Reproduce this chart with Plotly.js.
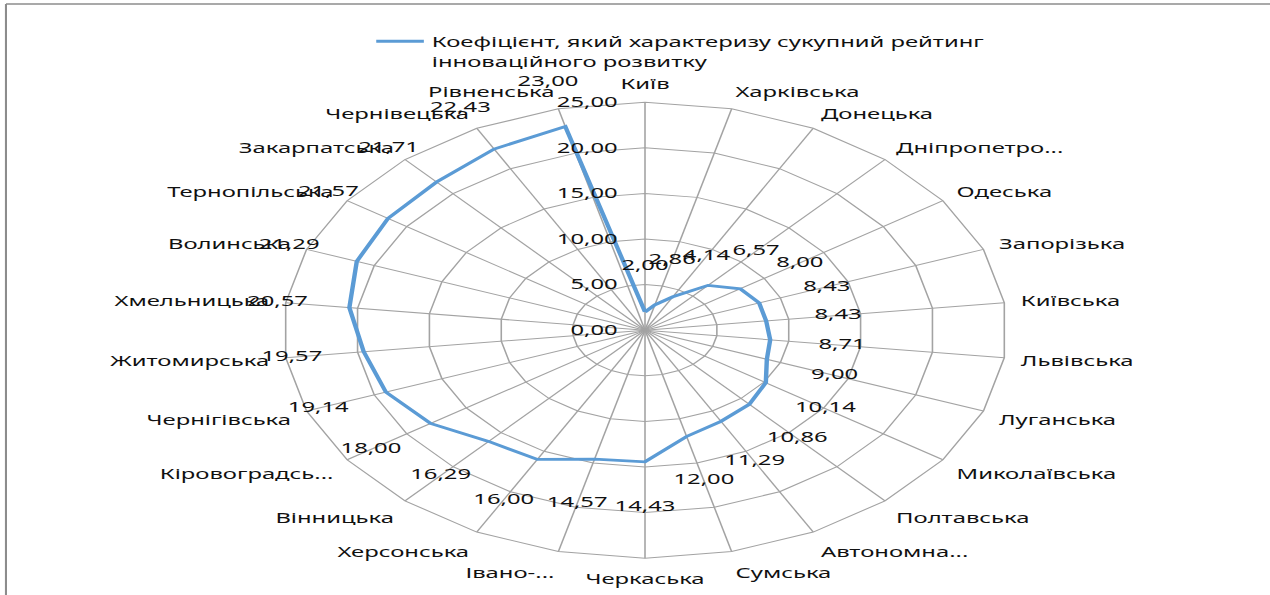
<!DOCTYPE html>
<html>
<head>
<meta charset="utf-8">
<script src="https://cdn.plot.ly/plotly-3.0.1.min.js"></script>
<style>
  html, body { margin: 0; padding: 0; background: #fff; overflow: hidden; }
  #wrap { width: 1270px; height: 595px; overflow: hidden; position: relative; }
  #chart { width: 800px; height: 595px; transform: scaleX(1.5875); transform-origin: 0 0; }
</style>
</head>
<body>
<div id="wrap"><div id="chart"></div></div>
<script>
const categories = ["Київ", "Харківська", "Донецька", "Дніпропетро...", "Одеська", "Запорізька",
  "Київська", "Львівська", "Луганська", "Миколаївська", "Полтавська", "Автономна...",
  "Сумська", "Черкаська", "Івано-...", "Херсонська", "Вінницька", "Кіровоградсь...",
  "Чернігівська", "Житомирська", "Хмельницька", "Волинська", "Тернопільська",
  "Закарпатська", "Чернівецька", "Рівненська"];
const values = [2.00, 2.86, 4.14, 6.57, 8.00, 8.43, 8.43, 8.71, 9.00, 10.14, 10.86, 11.29,
  12.00, 14.43, 14.57, 16.00, 16.29, 18.00, 19.14, 19.57, 20.57, 21.29, 21.57, 21.71, 22.43, 23.00];
const seriesName = "Коефіцієнт, який характеризу сукупний рейтинг<br>інноваційного розвитку";
const radialTicks = [0, 5, 10, 15, 20, 25];

const fmt = v => v.toFixed(2).replace('.', ',');
const labelOffset = 5;
const FONT = "Noto Sans, sans-serif";
const FS = 15;

// main polar: radius 228px for 0..25 ; label polar: same scale, range 0..29
const cx = 406.3, cyTop = 330.2, W = 800, H = 595, R = 228, rMax = 25, rMax2 = 29;
const R2 = R * rMax2 / rMax;
const tickShift = 14.5;
function dom(rad, dx) {
  dx = dx || 0;
  return { x: [(cx + dx - rad) / W, (cx + dx + rad) / W],
           y: [Math.max(0, (H - (cyTop + rad)) / H), (H - (cyTop - rad)) / H] };
}

const line = {
  type: 'scatterpolar',
  subplot: 'polar',
  mode: 'lines',
  r: values.concat([values[0]]),
  theta: categories.concat([categories[0]]),
  name: seriesName,
  line: { color: '#5b9bd5', width: 2.8 },
  hoverinfo: 'skip'
};
const labels = {
  type: 'scatterpolar',
  subplot: 'polar2',
  mode: 'text',
  r: values.map(v => v + labelOffset),
  theta: categories,
  text: values.map(fmt),
  textposition: 'middle center',
  textfont: { family: FONT, size: FS, color: '#111' },
  showlegend: false,
  hoverinfo: 'skip'
};
// hosts the radial tick labels (no visible mark)
const tickHost = {
  type: 'scatterpolar', subplot: 'polar3', mode: 'markers',
  r: [0], theta: [categories[0]],
  marker: { size: 1, color: 'rgba(0,0,0,0)' },
  showlegend: false, hoverinfo: 'skip'
};

const layout = {
  width: W, height: H,
  margin: { l: 0, r: 0, t: 0, b: 0 },
  paper_bgcolor: '#fff',
  separators: ', ',
  font: { family: FONT, size: FS, color: '#111' },
  showlegend: true,
  legend: {
    x: 0.29, xanchor: 'left', y: 0.958, yanchor: 'top', valign: 'top',
    font: { family: FONT, size: FS, color: '#111' },
    bgcolor: 'rgba(0,0,0,0)', borderwidth: 0
  },
  polar: {
    domain: dom(R),
    bgcolor: '#fff',
    gridshape: 'linear',
    radialaxis: {
      range: [0, rMax], tickvals: radialTicks, showticklabels: false,
      angle: 90, showline: false, ticks: '',
      gridcolor: '#a3a3a3', gridwidth: 1
    },
    angularaxis: {
      direction: 'clockwise', rotation: 90,
      gridcolor: '#a3a3a3', linecolor: '#a3a3a3', linewidth: 1, showline: true,
      ticks: 'outside', ticklen: 7, tickcolor: 'rgba(0,0,0,0)',
      tickfont: { family: FONT, size: FS, color: '#111' }
    }
  },
  polar3: {
    domain: dom(R, -tickShift),
    bgcolor: 'rgba(0,0,0,0)',
    radialaxis: {
      range: [0, rMax], tickvals: radialTicks, tickformat: '.2f',
      angle: 90, side: 'counterclockwise', tickangle: 90,
      showline: false, showgrid: false, ticks: '',
      tickfont: { family: FONT, size: FS, color: '#111' }
    },
    angularaxis: { direction: 'clockwise', rotation: 90, visible: false,
      categoryorder: 'array', categoryarray: categories }
  },
  polar2: {
    domain: dom(R2),
    bgcolor: 'rgba(0,0,0,0)',
    radialaxis: { range: [0, rMax2], visible: false },
    angularaxis: { direction: 'clockwise', rotation: 90, visible: false,
      categoryorder: 'array', categoryarray: categories }
  },
  shapes: [
    { type: 'line', xref: 'paper', yref: 'paper', x0: 0.0047, x1: 1.2, y0: 1 - 4/595, y1: 1 - 4/595,
      line: { color: '#8c8c8c', width: 1.3 } },
    { type: 'line', xref: 'paper', yref: 'paper', x0: 0.0047, x1: 0.0047, y0: -0.2, y1: 1 - 4/595,
      line: { color: '#8c8c8c', width: 1.3 } }
  ]
};

Plotly.newPlot('chart', [line, tickHost, labels], layout, { displayModeBar: false, staticPlot: true });
</script>
</body>
</html>
